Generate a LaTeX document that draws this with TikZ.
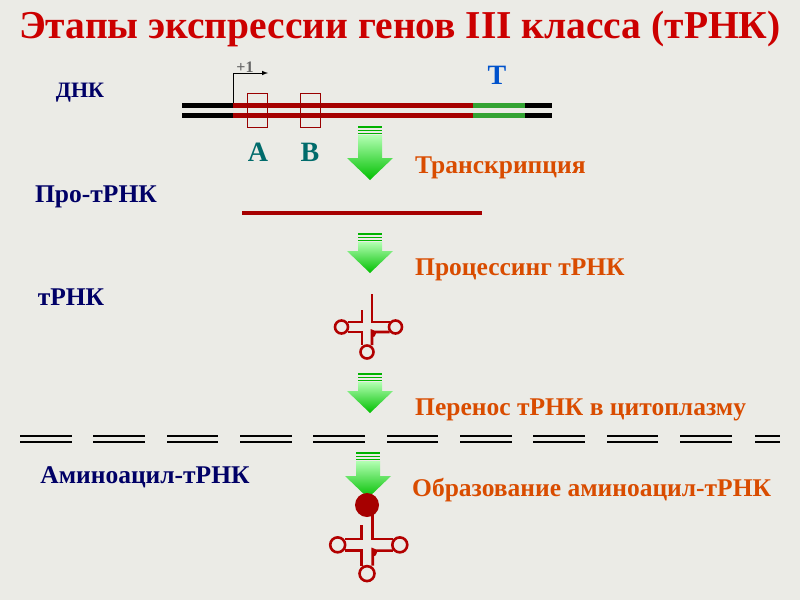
\documentclass[tikz,border=0pt]{standalone}
\usepackage{fontspec}
\setmainfont{Liberation Serif}
\begin{document}
\begin{tikzpicture}[x=1pt,y=-1pt,
  lbl/.style={font=\bfseries\fontsize{25.5}{26}\selectfont, text=orange!70!red!85!black, anchor=west, inner sep=0},
  lft/.style={font=\bfseries\fontsize{25.5}{26}\selectfont, text=blue!40!black, inner sep=0},
  rna/.style={draw=red!65!black, line width=4pt},
  trna/.style={draw=red!70!black, line width=2.6pt}]
\fill[yellow!10!gray!20] (0,0) rectangle (800,600);
\useasboundingbox (0,0) rectangle (800,600);
% title
\node[font=\bfseries\fontsize{39.5}{40}\selectfont, text=red!80!black, inner sep=0] (title) at (400,29) {Этапы экспрессии генов III класса (тРНК)};
% left labels
\node[lft, font=\bfseries\fontsize{22}{22}\selectfont] (dnk) at (80,93) {ДНК};
\node[lft] (pro) at (96,197) {Про-тРНК};
\node[lft] (trnk) at (71,297) {тРНК};
\node[lft] (amino) at (145,477) {Аминоацил-тРНК};
% DNA
\foreach \y in {105,115}{
  \draw[line width=5pt,black] (182,\y) -- (233,\y);
  \draw[line width=5pt,red!65!black] (233,\y) -- (473,\y);
  \draw[line width=5pt,green!55!black!80] (473,\y) -- (525,\y);
  \draw[line width=5pt,black] (525,\y) -- (552,\y);
}
\draw[red!60!black, line width=0.8pt] (247,93) rectangle (267,127);
\draw[red!60!black, line width=0.8pt] (300,93) rectangle (320,127);
\coordinate (tss) at (233,103);
\draw[-latex, line width=1pt] (tss) -- (233,73) -- (268,73);
\node[font=\bfseries\fontsize{16}{16}\selectfont, text=black!60, inner sep=0] (p1) at (245,67) {+1};
\node[font=\bfseries\fontsize{28}{28}\selectfont, text=blue!60!cyan!80!black, inner sep=0] (T) at (497,75) {T};
\node[font=\bfseries\fontsize{28}{28}\selectfont, text=teal!80!cyan!70!black, inner sep=0] (A) at (258,152) {A};
\node[font=\bfseries\fontsize{28}{28}\selectfont, text=teal!80!cyan!70!black, inner sep=0] (B) at (310,152) {B};
% pro-tRNA
\draw[rna] (242,213) -- (482,213);
% arrows
\newcommand{\garrow}[3]{%
  \begin{scope}[shift={(#1,#2)}]
  \pgfmathsetmacro{\h}{#3}
  \shade[top color=green!30!white, bottom color=green!75!black, draw=none]
    (-12,9) -- (12,9) -- (12,\h-22) -- (23,\h-22) -- (0,\h) -- (-23,\h-22) -- (-12,\h-22) -- cycle;
  \fill[green!70!black] (-12,0) rectangle (12,2);
  \fill[green!70!black] (-12,3.5) rectangle (12,5);
  \fill[green!70!black] (-12,6.5) rectangle (12,7.5);
  \end{scope}}
\garrow{370}{126}{54}
\garrow{370}{233}{40}
\garrow{370}{373}{40}
\garrow{368}{452}{46}
% right labels
\node[lbl] (l1) at (415,168) {Транскрипция};
\node[lbl] (l2) at (415,270) {Процессинг тРНК};
\node[lbl] (l3) at (415,410) {Перенос тРНК в цитоплазму};
\node[lbl] (l4) at (412,490) {Образование аминоацил-тРНК};
% membrane
\foreach \a/\b in {20/72,93/145,167/218,240/292,313/365,387/438,460/512,533/585,607/658,680/732,755/780}{
  \draw[line width=2pt] (\a,436) -- (\b,436);
  \draw[line width=2pt] (\a,442) -- (\b,442);
}
% tRNA pic
\tikzset{clover/.pic={
  \draw[trna] (5,-34) -- (5,-6) -- (22.5,-6);
  \draw[trna] (22.5,4) -- (5,4) -- (5,8) arc[start angle=90,end angle=-90,radius=2.5] -- (5,17);
  \draw[trna] (-5,-18) -- (-5,-6) -- (-19.5,-6);
  \draw[trna] (-19.5,4) -- (-5,4) -- (-5,17);
  \draw[trna] (-25.5,-1) circle[radius=6.5];
  \draw[trna] (28.5,-1) circle[radius=6.5];
  \draw[trna] (0,24) circle[radius=6.5];
}}
\pic at (367,328) {clover};
\pic[scale=1.15] at (367,546) {clover};
\fill[red!65!black] (367,505) circle[radius=12];
\end{tikzpicture}
\end{document}
